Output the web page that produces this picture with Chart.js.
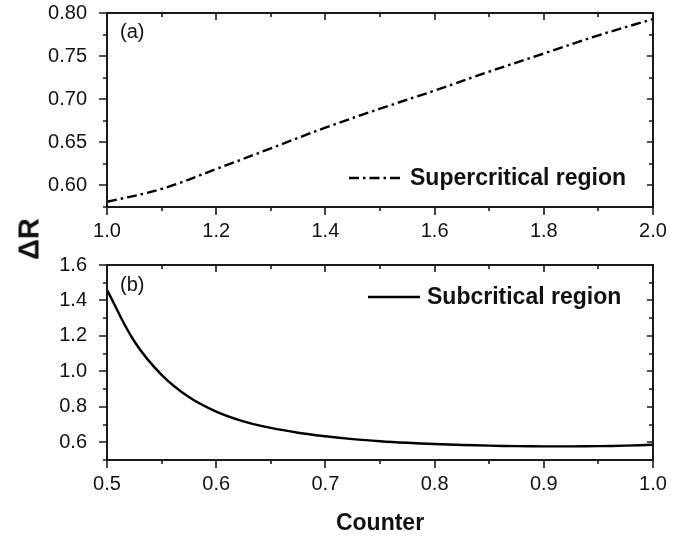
<!DOCTYPE html>
<html>
<head>
<meta charset="utf-8">
<script src="https://cdn.jsdelivr.net/npm/chart.js@4"></script>
<style>
  body { margin: 0; background: #fff; }
  #wrap { position: relative; width: 690px; height: 537px; }
  canvas { position: absolute; left: 0; }
  #c1 { top: 0; }
  #c2 { top: 250px; }
  #ylab {
    position: absolute; left: 29px; top: 239px;
    transform: translate(-50%, -50%) rotate(-90deg);
    font: bold 29px 'Liberation Sans', Arial, sans-serif;
    color: #111; white-space: nowrap;
  }
</style>
</head>
<body>
<div id="wrap">
  <canvas id="c1" width="690" height="250"></canvas>
  <canvas id="c2" width="690" height="287"></canvas>
  <div id="ylab">ΔR</div>
</div>
<script>
// panel (a) - supercritical
const xA = [1.0, 1.1, 1.2, 1.3, 1.4, 1.5, 1.6, 1.7, 1.8, 1.9, 2.0];
const yA = [0.581, 0.596, 0.619, 0.643, 0.667, 0.689, 0.710, 0.732, 0.753, 0.774, 0.793];
const xTicksA = [1.0, 1.2, 1.4, 1.6, 1.8, 2.0];
const yTicksA = [0.60, 0.65, 0.70, 0.75, 0.80];

// panel (b) - subcritical
const xB = [0.500, 0.525, 0.550, 0.575, 0.600, 0.625, 0.650, 0.675, 0.700, 0.725, 0.750,
            0.775, 0.800, 0.825, 0.850, 0.875, 0.900, 0.925, 0.950, 0.975, 1.000];
const yB = [1.460, 1.170, 0.980, 0.855, 0.773, 0.718, 0.681, 0.654, 0.634, 0.618, 0.606,
            0.597, 0.590, 0.585, 0.581, 0.578, 0.577, 0.577, 0.578, 0.581, 0.586];
const xTicksB = [0.5, 0.6, 0.7, 0.8, 0.9, 1.0];
const yTicksB = [0.6, 0.8, 1.0, 1.2, 1.4, 1.6];

Chart.defaults.font.family = "'Liberation Sans', Arial, sans-serif";
Chart.defaults.color = '#111';

// minor ticks = halfway between majors, kept inside the axis range
function minors(scale) {
  const v = scale.ticks.map(t => t.value);
  const out = [];
  const step = v[1] - v[0];
  for (let i = -1; i < v.length; i++) {
    const m = (i < 0 ? v[0] - step : v[i]) + step / 2;
    if (m >= scale.min - 1e-9 && m <= scale.max + 1e-9) out.push(m);
  }
  return out;
}

// box frame, ticks (out on left/bottom, in on top/right), panel tag and legend
const framePlugin = {
  id: 'frame',
  afterDraw(chart, args, o) {
    const { ctx, chartArea: a, scales: { x, y } } = chart;
    ctx.save();
    ctx.strokeStyle = '#1a1a1a';
    ctx.lineWidth = 2;
    ctx.strokeRect(a.left, a.top, a.right - a.left, a.bottom - a.top);
    ctx.lineWidth = 1.6;
    ctx.beginPath();
    const xm = (v, len, inLen) => {
      const p = Math.round(x.getPixelForValue(v));
      ctx.moveTo(p, a.bottom); ctx.lineTo(p, a.bottom + len);
      ctx.moveTo(p, a.top); ctx.lineTo(p, a.top + inLen);
    };
    const ym = (v, len, inLen) => {
      const p = Math.round(y.getPixelForValue(v));
      ctx.moveTo(a.left, p); ctx.lineTo(a.left - len, p);
      ctx.moveTo(a.right, p); ctx.lineTo(a.right - inLen, p);
    };
    x.ticks.forEach(t => xm(t.value, 8, 7));
    minors(x).forEach(v => xm(v, 4, 4));
    y.ticks.forEach(t => ym(t.value, 8, 6));
    minors(y).forEach(v => ym(v, 4, 4));
    ctx.stroke();

    // panel tag
    ctx.fillStyle = '#111';
    ctx.font = "20px 'Liberation Sans', Arial, sans-serif";
    ctx.textBaseline = 'middle';
    ctx.textAlign = 'left';
    ctx.fillText(o.tag, a.left + 13, a.top + o.tagDy);

    // legend
    const ds = chart.data.datasets[0];
    ctx.strokeStyle = ds.borderColor;
    ctx.lineWidth = ds.borderWidth;
    ctx.setLineDash(ds.borderDash || []);
    ctx.beginPath();
    ctx.moveTo(o.lx1, o.ly);
    ctx.lineTo(o.lx2, o.ly);
    ctx.stroke();
    ctx.setLineDash([]);
    ctx.font = "bold 23px 'Liberation Sans', Arial, sans-serif";
    ctx.fillText(ds.label, o.lx2 + 7, o.ly + 1);
    ctx.restore();
  }
};

function makeChart(id, xs, ys, xTicks, yTicks, opts) {
  return new Chart(document.getElementById(id), {
    type: 'line',
    data: {
      datasets: [{
        label: opts.label,
        data: xs.map((v, i) => ({ x: v, y: ys[i] })),
        borderColor: '#000',
        borderWidth: 2.4,
        borderDash: opts.dash,
        pointRadius: 0,
        tension: 0.4,
        fill: false
      }]
    },
    options: {
      responsive: false,
      animation: false,
      layout: { padding: { left: 0, right: 37, top: opts.top, bottom: 0 } },
      plugins: {
        legend: { display: false },
        tooltip: { enabled: false },
        frame: opts.frame
      },
      scales: {
        x: {
          type: 'linear',
          min: opts.xmin, max: opts.xmax,
          grid: { display: false },
          border: { display: false },
          afterBuildTicks: s => { s.ticks = xTicks.map(v => ({ value: v })); },
          afterFit: s => { s.height = opts.xh; s.paddingLeft = 0; s.paddingRight = 0; },
          ticks: { font: { size: 20 }, padding: 4, maxRotation: 0, callback: v => v.toFixed(1) },
          title: opts.xtitle ? {
            display: true, text: opts.xtitle,
            font: { size: 23, weight: 'bold' }, padding: { top: 0, bottom: 0 }
          } : { display: false }
        },
        y: {
          min: opts.ymin, max: opts.ymax,
          grid: { display: false },
          border: { display: false },
          afterBuildTicks: s => { s.ticks = yTicks.map(v => ({ value: v })); },
          afterFit: s => { s.width = 107; s.paddingTop = 0; s.paddingBottom = 0; },
          ticks: { font: { size: 20 }, padding: 12, callback: v => v.toFixed(opts.ydec) }
        }
      }
    },
    plugins: [framePlugin]
  });
}

makeChart('c1', xA, yA, xTicksA, yTicksA, {
  label: 'Supercritical region', dash: [10, 4, 2.5, 4],
  xmin: 1.0, xmax: 2.0, ymin: 0.575, ymax: 0.80, ydec: 2,
  top: 13, xh: 43,
  frame: { tag: '(a)', tagDy: 19, lx1: 349, lx2: 403, ly: 178 }
});

makeChart('c2', xB, yB, xTicksB, yTicksB, {
  label: 'Subcritical region', dash: [],
  xmin: 0.5, xmax: 1.0, ymin: 0.5, ymax: 1.6, ydec: 1,
  top: 15, xh: 77, xtitle: 'Counter',
  frame: { tag: '(b)', tagDy: 20, lx1: 368, lx2: 420, ly: 47 }
});
</script>
</body>
</html>
